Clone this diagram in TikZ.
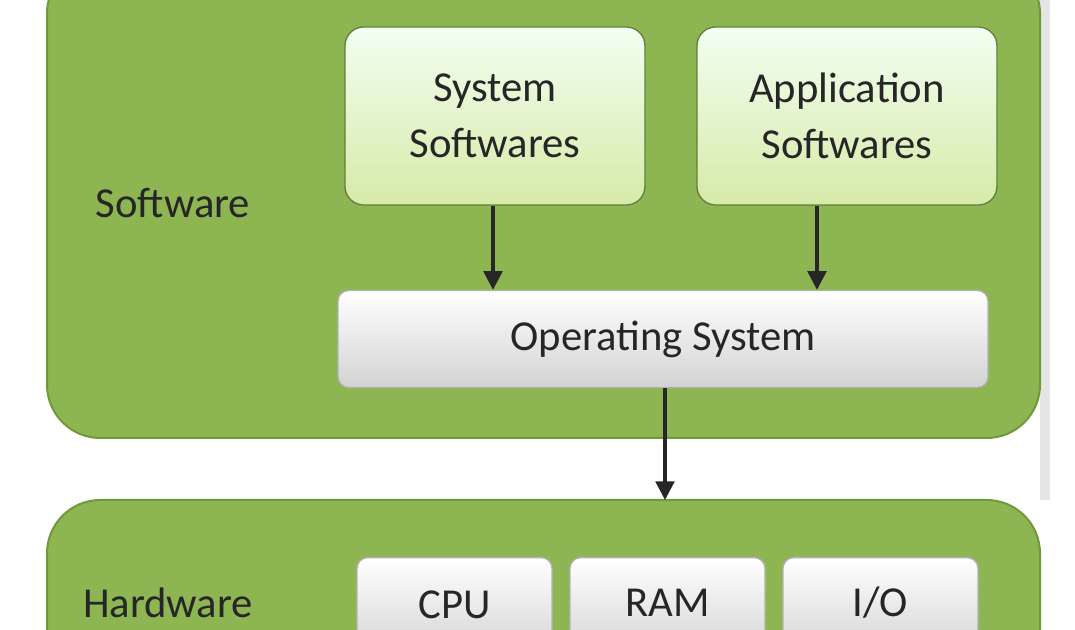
\documentclass[tikz,border=0pt]{standalone}
\usepackage{fontspec}
\setmainfont{Carlito}
\usetikzlibrary{arrows.meta}
\definecolor{outer}{HTML}{8DB551}
\definecolor{outerb}{HTML}{6E9A3A}
\begin{document}
\begin{tikzpicture}[x=0.75pt,y=-0.75pt,
  txt/.style={font=\fontsize{32}{42}\selectfont,text=black!85,align=center},
  big/.style={fill=outer,draw=outerb,line width=1.5pt,rounded corners=40pt},
  gbox/.style={draw=outer!70!black,line width=1pt,rounded corners=14pt,top color=green!5!white,bottom color={rgb,255:red,214;green,234;blue,168}},
  grey/.style={draw=gray!60,line width=1pt,rounded corners=8pt,top color=white,bottom color=gray!35},
  arr/.style={-{Triangle[length=14pt,width=14pt]},line width=2.5pt,black!85}]
\useasboundingbox (0,0) rectangle (1075,630);
\clip (0,0) rectangle (1075,630);
\fill[white] (0,0) rectangle (1075,630);
\fill[gray!20] (1040,0) rectangle (1050,500);
\draw[big] (47,-40) rectangle (1040,438);
\draw[big] (47,500) rectangle (1040,700);
\node[txt] (sw) at (173,203) {Software};
\node[txt] (hw) at (168,603) {Hardware};
\node[gbox,minimum width=300*0.75pt,minimum height=178*0.75pt,txt] (sys) at (495,116) {System\\Softwares};
\node[gbox,minimum width=300*0.75pt,minimum height=178*0.75pt,txt] (app) at (847,116) {Application\\Softwares};
\node[grey,minimum width=650*0.75pt,minimum height=97*0.75pt,txt] (os) at (663,339) {Operating System};
\node[grey,minimum width=195*0.75pt,minimum height=100*0.75pt,anchor=north] (cpu) at (454.5,557) {};
\node[grey,minimum width=195*0.75pt,minimum height=100*0.75pt,anchor=north] (ram) at (667.5,557) {};
\node[grey,minimum width=195*0.75pt,minimum height=100*0.75pt,anchor=north] (io) at (880.5,557) {};
\node[txt] (cput) at (454.5,605) {CPU};
\node[txt] (ramt) at (667.5,603) {RAM};
\node[txt] (iot) at (880.5,603) {I/O};
\draw[arr] (sys.south -| 493,0) -- (os.north -| 493,0);
\draw[arr] (app.south -| 817,0) -- (os.north -| 817,0);
\draw[arr] (os.south -| 665,0) -- (665,500);
\end{tikzpicture}
\end{document}
